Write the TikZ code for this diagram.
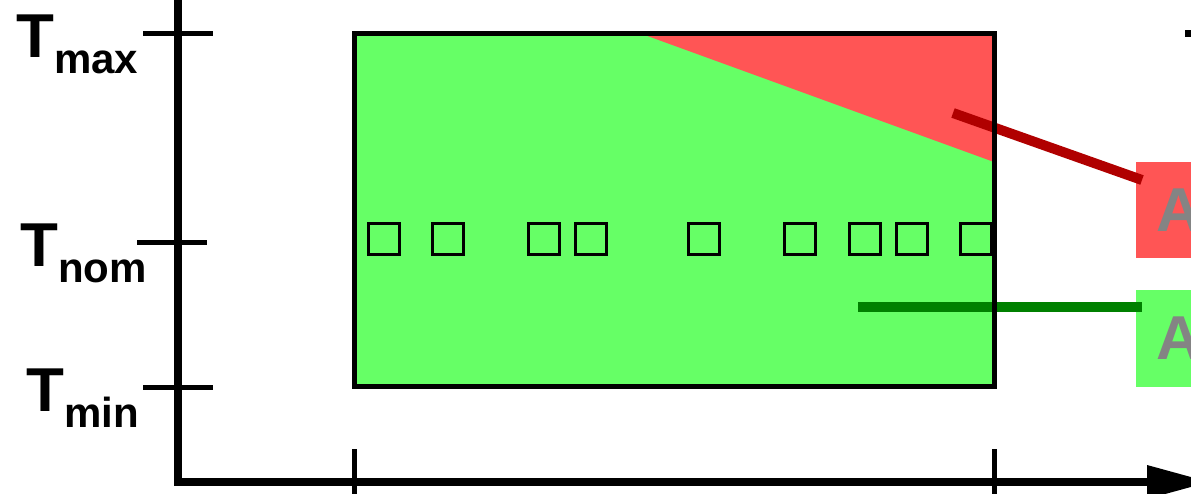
\documentclass[tikz,border=0pt]{standalone}
\usepackage{fontspec}
\setmainfont{Liberation Sans}
\definecolor{zonegreen}{HTML}{66FF66}
\definecolor{zonered}{HTML}{FF5555}
\definecolor{linered}{HTML}{B00000}
\definecolor{linegreen}{HTML}{008000}
\definecolor{labelgray}{HTML}{848484}
\begin{document}
\begin{tikzpicture}[x=1pt,y=-1pt,
  axisline/.style={line width=8pt},
  ticklin/.style={line width=5pt},
  glyphbox/.style={draw=black, line width=3pt, minimum width=31pt, minimum height=31pt, inner sep=0pt, outer sep=0pt},
  tlabel/.style={anchor=base west, inner sep=0pt, font=\bfseries\fontsize{62}{62}\selectfont},
  legendbox/.style={anchor=west, inner xsep=20pt, inner ysep=0pt, outer sep=0pt, minimum height=96pt, text=labelgray, font=\bfseries\fontsize{62}{62}\selectfont},
  leader/.style={line width=10pt},
]
\useasboundingbox (0,0) rectangle (1191,494);
% zone fill
\fill[zonegreen] (354,34) rectangle (994,386);
\fill[zonered] (642,34) -- (994,34) -- (994,162) -- cycle;
% glyph boxes
\foreach \i/\cx in {1/383.6,2/447.8,3/543.8,4/591.4,5/703.8,6/799.5,7/864.7,8/912.3,9/975.8}
  \node[glyphbox] (sq\i) at (\cx,239) {};
% legend boxes
\node[legendbox, fill=zonered] (redbox) at (1136,210) {A};
\node[legendbox, fill=zonegreen] (greenbox) at (1136,338.5) {A};
% leaders
\coordinate (redstart) at (953,113);
\coordinate (redend) at (1142,180);
\coordinate (greenstart) at (858,307);
\coordinate (greenend) at (1142,307);
\draw[leader, linered] (redstart) -- (redend);
\draw[leader, linegreen] (greenstart) -- (greenend);
% zone border
\node[draw=black, line width=5pt, minimum width=640pt, minimum height=352pt, inner sep=0pt, outer sep=0pt, anchor=north west] (zone) at (354,34) {};
% axes
\coordinate (origin) at (178,482);
\coordinate (ytop) at (178,-10);
\coordinate (xend) at (1150,482);
\draw[axisline] (ytop) -- (178,486);
\draw[axisline] (174,482) -- (xend);
\fill (1147,465) -- (1209,482) -- (1147,499) -- cycle;
% x ticks
\draw[ticklin] (354,449) -- (354,500);
\draw[ticklin] (994,449) -- (994,500);
% y ticks
\draw[ticklin] (143,34) -- (213,34);
\draw[ticklin] (137,243) -- (207,243);
\draw[ticklin] (143,387) -- (213,387);
% labels
\node[tlabel] (tmax) at (16,58) {T\raisebox{-16pt}{\fontsize{42}{42}\selectfont max}};
\node[tlabel] (tnom) at (20,267) {T\raisebox{-16pt}{\fontsize{42}{42}\selectfont nom}};
\node[tlabel] (tmin) at (26,411) {T\raisebox{-16pt}{\fontsize{42}{42}\selectfont min}};
% partial mark top right
\fill (1185,30) rectangle (1195,37);
\end{tikzpicture}
\end{document}
